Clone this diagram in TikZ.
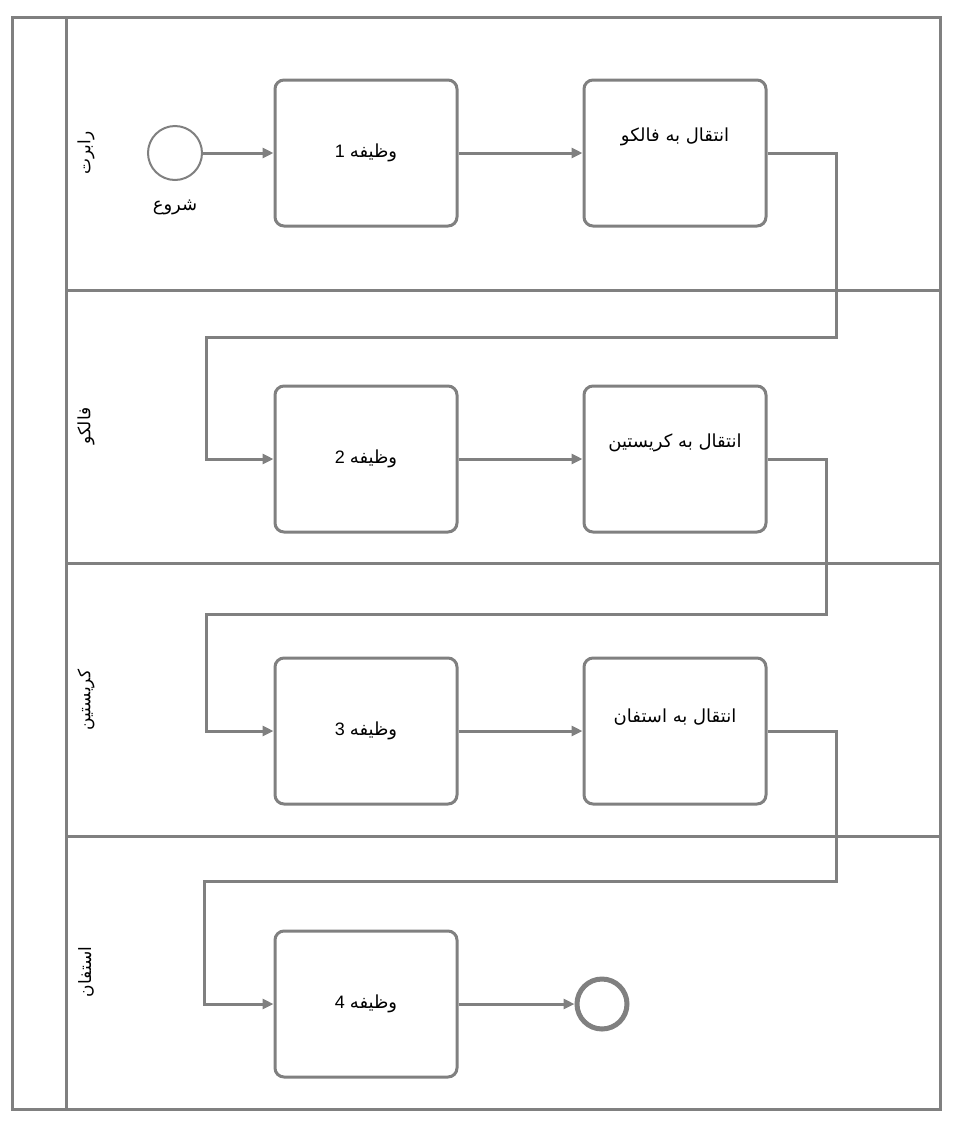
\documentclass[tikz,border=0pt]{standalone}
\usepackage{fontspec}
\setmainfont{Liberation Sans}
\newfontfamily\fa[Script=Arabic]{DejaVu Sans}
\TeXXeTstate=1
\usetikzlibrary{arrows.meta}
\definecolor{linegray}{RGB}{128,128,128}

\tikzset{
    task/.style={draw=linegray, line width=3pt, rounded corners=9pt, minimum width=182pt, minimum height=146pt, inner sep=0pt, font=\fontsize{18}{22}\selectfont},
    txt/.style={font=\fontsize{18}{22}\selectfont, inner sep=1pt},
    lanelabel/.style={rotate=90, anchor=center, font=\fontsize{17}{20}\selectfont},
    flow/.style={draw=linegray, line width=3pt, -{Triangle[length=11pt, width=10pt]}},
}

\begin{document}
\begin{tikzpicture}[x=1pt, y=-1pt]
    \useasboundingbox (0,0) rectangle (953,1133);

    % Pool and lanes
    \draw[linegray, line width=3pt] (12,17) rectangle (940,1109);
    \draw[linegray, line width=3pt] (66,17) -- (66,1109);
    \foreach \y in {290,563,836} {
        \draw[linegray, line width=3pt] (66,\y) -- (940,\y);
    }

    % Lane labels
    \node[lanelabel] (lane1) at (86,153) {\fa\beginR رابرت\endR};
    \node[lanelabel] (lane2) at (86,426) {\fa\beginR فالکو\endR};
    \node[lanelabel] (lane3) at (86,700) {\fa\beginR کریستین\endR};
    \node[lanelabel] (lane4) at (86,972) {\fa\beginR استفان\endR};

    % --- Lane 1 ---
    \node[circle, draw=linegray, line width=2pt, minimum size=54pt] (start) at (175,153) {};
    \node[txt] (startlbl) at (175,207) {\fa\beginR شروع\endR};
    \node[task] (t1) at (366,153) {1 {\fa\beginR وظیفه\endR}};
    \node[task] (x1) at (675,153) {};
    \node[txt] (x1lbl) at (675,137) {\fa\beginR انتقال به فالکو\endR};

    % --- Lane 2 ---
    \node[task] (t2) at (366,459) {2 {\fa\beginR وظیفه\endR}};
    \node[task] (x2) at (675,459) {};
    \node[txt] (x2lbl) at (675,443) {\fa\beginR انتقال به کریستین\endR};

    % --- Lane 3 ---
    \node[task] (t3) at (366,731) {3 {\fa\beginR وظیفه\endR}};
    \node[task] (x3) at (675,731) {};
    \node[txt] (x3lbl) at (675,717) {\fa\beginR انتقال به استفان\endR};

    % --- Lane 4 ---
    \node[task] (t4) at (366,1004) {4 {\fa\beginR وظیفه\endR}};
    \node[circle, draw=linegray, line width=5pt, minimum size=50pt] (end) at (602,1004) {};

    % Sequence flows
    \draw[flow] (start) -- (t1);
    \draw[flow] (t1) -- (x1);
    \draw[flow] (x1.east) -| (836,337) -| (206,459) -- (t2.west);
    \draw[flow] (t2) -- (x2);
    \draw[flow] (x2.east) -| (826,614) -| (206,731) -- (t3.west);
    \draw[flow] (t3) -- (x3);
    \draw[flow] (x3.east) -| (836,881) -| (204,1004) -- (t4.west);
    \draw[flow] (t4) -- (end);
\end{tikzpicture}
\end{document}
